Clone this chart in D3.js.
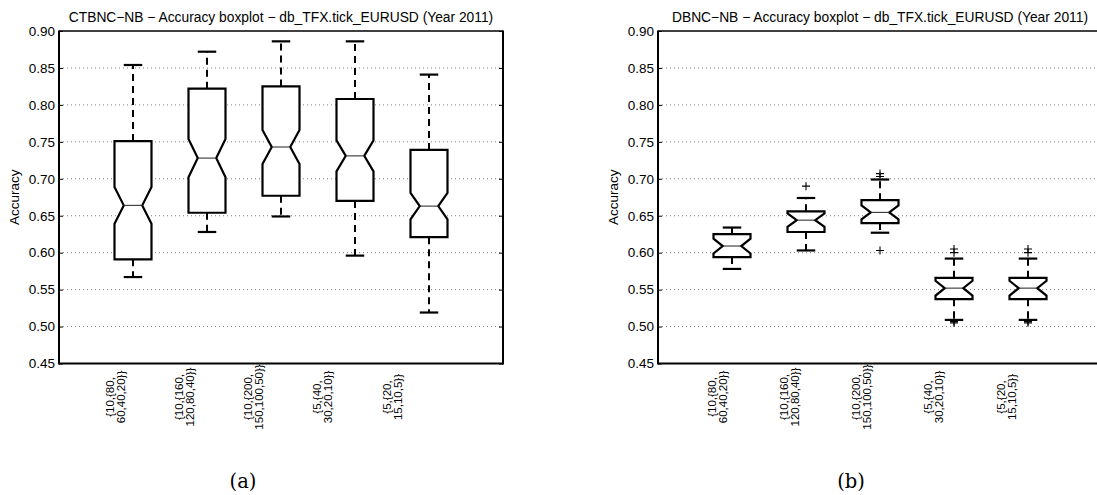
<!DOCTYPE html>
<html>
<head>
<meta charset="utf-8">
<script src="https://cdn.jsdelivr.net/npm/d3@7"></script>
<style>
  body{margin:0;background:#fff;}
  svg{display:block;font-family:"Liberation Sans",Arial,Helvetica,sans-serif;}
</style>
</head>
<body>
<div class="let"></div>
<script>
// categories (two-line tick labels)
let categories=[
  ['{10,{80,','60,40,20}}'],
  ['{10,{160,','120,80,40}}'],
  ['{10,{200,','150,100,50}}'],
  ['{5,{40,','30,20,10}}'],
  ['{5,{20,','15,10,5}}']
]
let yTicks=[0.45,0.50,0.55,0.60,0.65,0.70,0.75,0.80,0.85,0.90]

// CTBNC-NB
let ctbncLow =[0.567,0.628,0.649,0.596,0.519]
let ctbncQ1  =[0.591,0.654,0.677,0.670,0.621]
let ctbncMed =[0.664,0.728,0.743,0.731,0.663]
let ctbncQ3  =[0.751,0.822,0.825,0.808,0.739]
let ctbncHigh=[0.854,0.872,0.886,0.886,0.841]
let ctbncNotch=[0.025,0.026,0.023,0.021,0.018]
let ctbncOut =[[],[],[],[],[]]

// DBNC-NB
let dbncLow =[0.578,0.603,0.627,0.509,0.509]
let dbncQ1  =[0.594,0.628,0.640,0.537,0.537]
let dbncMed =[0.609,0.644,0.6545,0.552,0.552]
let dbncQ3  =[0.625,0.656,0.671,0.566,0.566]
let dbncHigh=[0.634,0.674,0.699,0.592,0.592]
let dbncNotch=[0.010,0.009,0.0095,0.010,0.010]
let dbncOut =[[],[0.690],[0.707,0.703,0.603],[0.605,0.600,0.507,0.505],[0.605,0.600,0.507,0.505]]

let w=1097, h=495
let svg=d3.select('.let').append('svg').attr('width',w).attr('height',h)

function panel(opt){
  let x0=opt.x0, x1=opt.x0+444, yTop=31, yBot=363.5
  let xScale=d3.scaleLinear().domain([0,6]).range([x0,x1])
  let yScale=d3.scaleLinear().domain([0.45,0.90]).range([yBot,yTop])
  // MATLAB puts rotated labels a bit left of the boxes
  let lScale=d3.scaleLinear().domain([1,5]).range([xScale(1)-opt.lOff[0],xScale(5)-opt.lOff[1]])
  let g=svg.append('g')

  // dotted grid
  g.selectAll('.grid').data(yTicks.slice(1,-1)).enter().append('line')
    .attr('x1',x0).attr('x2',x1).attr('y1',d=>yScale(d)).attr('y2',d=>yScale(d))
    .attr('stroke','#808080').attr('stroke-width',1).attr('stroke-dasharray','1,3')

  let yAxis=d3.axisLeft(yScale).tickValues(yTicks).tickFormat(d3.format('.2f')).tickSizeInner(-4).tickSizeOuter(0).tickPadding(4)
  let ya=g.append('g').attr('transform','translate('+x0+',0)').call(yAxis)
  ya.select('.domain').remove()
  ya.selectAll('text').attr('font-size','13.5px').attr('fill','#000').attr('font-family','Liberation Sans, Arial, sans-serif')
  let yAxisR=d3.axisRight(yScale).tickValues(yTicks).tickFormat('').tickSizeInner(-4).tickSizeOuter(0)
  let yr=g.append('g').attr('transform','translate('+x1+',0)').call(yAxisR)
  yr.select('.domain').remove()

  // frame
  g.append('line').attr('x1',x0).attr('x2',x1).attr('y1',yTop).attr('y2',yTop).attr('stroke','#000').attr('stroke-width',1.3)
  g.append('line').attr('x1',x0).attr('x2',x1).attr('y1',yBot).attr('y2',yBot).attr('stroke','#000').attr('stroke-width',2)
  g.append('line').attr('x1',x0).attr('x2',x0).attr('y1',yTop-0.5).attr('y2',yBot+1).attr('stroke','#000').attr('stroke-width',2)
  g.append('line').attr('x1',x1).attr('x2',x1).attr('y1',yTop-0.5).attr('y2',yBot+1).attr('stroke','#000').attr('stroke-width',2)

  let idx=d3.range(opt.med.length)
  let hw=0.25, cw=0.125
  // whiskers
  idx.forEach(i=>{
    let c=xScale(i+1)
    g.append('line').attr('x1',c).attr('x2',c).attr('y1',yScale(opt.q3[i])).attr('y2',yScale(opt.high[i]))
      .attr('stroke','#000').attr('stroke-width',2).attr('stroke-dasharray','7,5')
    g.append('line').attr('x1',c).attr('x2',c).attr('y1',yScale(opt.q1[i])).attr('y2',yScale(opt.low[i]))
      .attr('stroke','#000').attr('stroke-width',2).attr('stroke-dasharray','7,5')
    ;[opt.high[i],opt.low[i]].forEach(v=>{
      g.append('line').attr('x1',xScale(i+1-cw)).attr('x2',xScale(i+1+cw)).attr('y1',yScale(v)).attr('y2',yScale(v))
        .attr('stroke','#000').attr('stroke-width',2.2)
    })
  })
  // notched boxes
  g.selectAll('.box').data(idx).enter().append('path')
    .attr('d',i=>{
      let p=i+1, m=opt.med[i], n=opt.notch[i]
      let pts=[[p-hw,opt.q3[i]],[p+hw,opt.q3[i]],[p+hw,m+n],[p+hw/2,m],[p+hw,m-n],[p+hw,opt.q1[i]],
               [p-hw,opt.q1[i]],[p-hw,m-n],[p-hw/2,m],[p-hw,m+n]]
      return 'M'+pts.map(q=>xScale(q[0])+','+yScale(q[1])).join('L')+'Z'
    })
    .attr('fill','#fff').attr('stroke','#000').attr('stroke-width',2.2).attr('stroke-linejoin','miter')
  g.selectAll('.med').data(idx).enter().append('line')
    .attr('x1',i=>xScale(i+1-hw/2)).attr('x2',i=>xScale(i+1+hw/2))
    .attr('y1',i=>yScale(opt.med[i])).attr('y2',i=>yScale(opt.med[i]))
    .attr('stroke','#333').attr('stroke-width',1.1)
  // outliers
  idx.forEach(i=>{
    opt.out[i].forEach(v=>{
      let cx=xScale(i+1), cy=yScale(v)
      g.append('path').attr('d','M'+(cx-4)+','+cy+'H'+(cx+4)+'M'+cx+','+(cy-4)+'V'+(cy+4))
        .attr('stroke','#000').attr('stroke-width',1.1).attr('fill','none')
    })
  })

  // x tick labels
  let lab=g.selectAll('.xl').data(categories).enter().append('text')
    .attr('transform',(d,i)=>'translate('+lScale(i+1)+',397) rotate(-90)')
    .attr('text-anchor','middle').attr('font-size','11.5px').attr('fill','#000')
  lab.append('tspan').attr('x',0).attr('y',-1.5).text(d=>d[0])
  lab.append('tspan').attr('x',0).attr('y',9.5).text(d=>d[1])

  // title
  g.append('text').attr('x',(x0+x1)/2).attr('y',21.5).attr('text-anchor','middle')
    .attr('font-size','13.8px').attr('fill','#000').text(opt.title)
  // y label
  g.append('text').attr('transform','translate('+(x0-40)+','+((yTop+yBot)/2)+') rotate(-90)')
    .attr('text-anchor','middle').attr('font-size','13.5px').attr('fill','#000').text('Accuracy')
  // caption
  g.append('text').attr('x',opt.capX).attr('y',488).attr('text-anchor','middle')
    .attr('font-family','DejaVu Serif, Liberation Serif, serif').attr('font-size','19.5px').attr('fill','#000').text(opt.cap)
}

panel({x0:59,title:'CTBNC\u2212NB \u2212 Accuracy boxplot \u2212 db_TFX.tick_EURUSD (Year 2011)',
  low:ctbncLow,q1:ctbncQ1,med:ctbncMed,q3:ctbncQ3,high:ctbncHigh,notch:ctbncNotch,out:ctbncOut,
  lOff:[18,37],cap:'(a)',capX:243})
panel({x0:658,title:'DBNC\u2212NB \u2212 Accuracy boxplot \u2212 db_TFX.tick_EURUSD (Year 2011)',
  low:dbncLow,q1:dbncQ1,med:dbncMed,q3:dbncQ3,high:dbncHigh,notch:dbncNotch,out:dbncOut,
  lOff:[15,22],cap:'(b)',capX:851})
</script>
</body>
</html>
